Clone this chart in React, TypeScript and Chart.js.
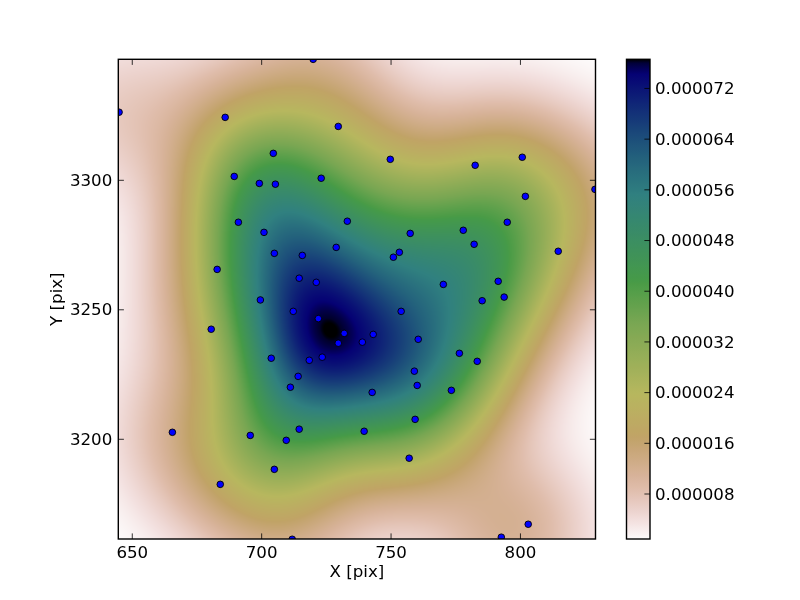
import React, { useEffect, useRef } from "react";
import { Chart, registerables } from "chart.js";

Chart.register(...registerables);

const xValues = [
  644.9, 685.9, 719.9, 729.6, 704.5, 689.4, 699.1, 705.3, 723.0, 691.0, 733.1, 700.9, 728.8, 704.9, 715.7, 682.8, 714.5,
  721.1, 699.5, 749.7, 782.5, 800.7, 828.8, 801.9, 794.9, 777.9, 782.1, 757.4, 753.2, 750.9, 814.6, 791.4, 793.7, 785.2,
  770.2, 712.2, 721.9, 731.9, 729.6, 723.4, 718.4, 680.5, 703.7, 714.1, 711.1, 665.5, 695.6, 714.5, 709.5, 704.9, 684.0,
  711.8, 753.9, 743.1, 738.9, 760.5, 776.4, 783.3, 759.0, 760.1, 773.3, 742.7, 759.3, 739.6, 757.0, 803.0, 792.6,
];
const yValues = [
  3326.3, 3324.3, 3346.7, 3320.8, 3310.4, 3301.5, 3298.8, 3298.5, 3300.8, 3283.8, 3284.2, 3279.9, 3274.1, 3271.8, 3271.0,
  3265.6, 3262.2, 3260.6, 3253.8, 3308.1, 3305.8, 3308.9, 3296.5, 3293.8, 3283.8, 3280.7, 3275.3, 3279.5, 3272.2, 3270.3,
  3272.6, 3261.0, 3254.9, 3253.5, 3259.8, 3249.4, 3246.6, 3240.9, 3237.1, 3231.7, 3230.5, 3242.5, 3231.3, 3224.3, 3220.1,
  3202.7, 3201.5, 3203.9, 3199.6, 3188.4, 3182.6, 3161.4, 3249.4, 3240.5, 3237.5, 3238.6, 3233.2, 3230.1, 3226.3, 3220.8,
  3218.9, 3218.1, 3207.7, 3203.1, 3192.7, 3167.2, 3162.2,
];
const xTicks = [650, 700, 750, 800];
const yTicks = [3200, 3250, 3300];
const xRange = [644.6, 829];
const yRange = [3161.5, 3346.72];
const densityTicks = [0.000008, 0.000016, 0.000024, 0.000032, 0.00004, 0.000048, 0.000056, 0.000064, 0.000072];
const densityRange = [0.0000009, 0.0000766];

type Stops = number[][];
const redStops: Stops = [[0, 0], [0.2824, 0.1882], [0.4588, 0.2714], [0.549, 0.4719], [0.698, 0.7176], [0.7882, 0.7553], [1, 0.9922]];
const greenStops: Stops = [
  [0, 0], [0.0275, 0], [0.1098, 0.1893], [0.1647, 0.3035], [0.2078, 0.3841], [0.2824, 0.502], [0.5216, 0.6397], [0.698, 0.7171],
  [0.7882, 0.6392], [0.8, 0.6447], [0.8157, 0.6549], [0.8667, 0.6991], [0.898, 0.743], [0.9412, 0.8275], [0.9647, 0.8816], [1, 0.9843],
];
const blueStops: Stops = [
  [0, 0], [0.0039, 0.1684], [0.0078, 0.2212], [0.0275, 0.4329], [0.0314, 0.4549], [0.2824, 0.5004], [0.4667, 0.2748],
  [0.5451, 0.3205], [0.7843, 0.3961], [0.8941, 0.6651], [1, 0.9843],
];

const FONT = "'DejaVu Sans'";
const FONT_SIZE = 16.67;

function channel(stops: Stops, t: number) {
  for (let i = 1; i < stops.length; i++) {
    if (t <= stops[i][0]) {
      const [a, va] = stops[i - 1];
      const [b, vb] = stops[i];
      return va + ((vb - va) * (t - a)) / (b - a);
    }
  }
  return stops[stops.length - 1][1];
}

// reversed earth colormap; t = 0 is lightest, t = 1 is black
function cmap(t: number): number[] {
  const u = 1 - Math.max(0, Math.min(1, t));
  return [channel(redStops, u) * 255, channel(greenStops, u) * 255, channel(blueStops, u) * 255];
}

function makeDensity() {
  const n = xValues.length;
  const mx = xValues.reduce((a, b) => a + b, 0) / n;
  const my = yValues.reduce((a, b) => a + b, 0) / n;
  let sxx = 0, syy = 0, sxy = 0;
  for (let i = 0; i < n; i++) {
    sxx += (xValues[i] - mx) ** 2;
    syy += (yValues[i] - my) ** 2;
    sxy += (xValues[i] - mx) * (yValues[i] - my);
  }
  const f2 = Math.pow(n, -1 / 3);
  const a = (sxx / (n - 1)) * f2, d = (syy / (n - 1)) * f2, b = (sxy / (n - 1)) * f2;
  const det = a * d - b * b;
  const norm = 1 / (n * 2 * Math.PI * Math.sqrt(det));
  return (x: number, y: number) => {
    let s = 0;
    for (let i = 0; i < n; i++) {
      const dx = x - xValues[i], dy = y - yValues[i];
      s += Math.exp(-0.5 * (d * dx * dx - 2 * b * dx * dy + a * dy * dy) / det);
    }
    return s * norm;
  };
}

const heatmapPlugin = {
  id: "heatmap",
  beforeDatasetsDraw(chart: any) {
    const { ctx, chartArea: area, scales } = chart;
    const left = Math.floor(area.left);
    const top = Math.floor(area.top);
    const w = Math.ceil(area.right) - left;
    const h = Math.ceil(area.bottom) - top;
    const off = document.createElement("canvas");
    off.width = w;
    off.height = h;
    const octx = off.getContext("2d")!;
    const img = octx.createImageData(w, h);
    const density = makeDensity();
    const span = densityRange[1] - densityRange[0];
    for (let j = 0; j < h; j++) {
      const yv = scales.y.getValueForPixel(top + j + 0.5);
      for (let i = 0; i < w; i++) {
        const xv = scales.x.getValueForPixel(left + i + 0.5);
        const c = cmap((density(xv, yv) - densityRange[0]) / span);
        const k = (j * w + i) * 4;
        img.data[k] = c[0];
        img.data[k + 1] = c[1];
        img.data[k + 2] = c[2];
        img.data[k + 3] = 255;
      }
    }
    octx.putImageData(img, 0, 0);
    ctx.drawImage(off, left, top);
  },
};

function strokeFrame(ctx: any, area: any) {
  ctx.save();
  ctx.strokeStyle = "#000";
  ctx.lineWidth = 1.4;
  ctx.strokeRect(area.left, area.top, area.right - area.left, area.bottom - area.top);
  ctx.restore();
}

const framePlugin = {
  id: "frame",
  afterDatasetsDraw(chart: any) {
    const { ctx, chartArea: area, scales } = chart;
    ctx.save();
    ctx.strokeStyle = "#000";
    ctx.lineWidth = 0.8;
    ctx.beginPath();
    for (const v of xTicks) {
      const p = scales.x.getPixelForValue(v);
      ctx.moveTo(p, area.top);
      ctx.lineTo(p, area.top + 5.6);
      ctx.moveTo(p, area.bottom);
      ctx.lineTo(p, area.bottom - 5.6);
    }
    for (const v of yTicks) {
      const p = scales.y.getPixelForValue(v);
      ctx.moveTo(area.left, p);
      ctx.lineTo(area.left + 5.6, p);
      ctx.moveTo(area.right, p);
      ctx.lineTo(area.right - 5.6, p);
    }
    ctx.stroke();
    ctx.restore();
    strokeFrame(ctx, area);
  },
};

const colorbarFramePlugin = {
  id: "colorbarFrame",
  afterDatasetsDraw(chart: any) {
    const { ctx, chartArea: area, scales } = chart;
    ctx.save();
    ctx.strokeStyle = "#000";
    ctx.lineWidth = 0.8;
    ctx.beginPath();
    for (const v of densityTicks) {
      const p = scales.y.getPixelForValue(v);
      ctx.moveTo(area.right, p);
      ctx.lineTo(area.right - 5.6, p);
    }
    ctx.stroke();
    ctx.restore();
    strokeFrame(ctx, area);
  },
};

function colorbarFill(context: any) {
  const { chart } = context;
  const area = chart.chartArea;
  if (!area) return "#888";
  const g = chart.ctx.createLinearGradient(0, area.bottom, 0, area.top);
  for (let i = 0; i <= 128; i++) {
    const c = cmap(i / 128);
    g.addColorStop(i / 128, `rgb(${c[0].toFixed(0)},${c[1].toFixed(0)},${c[2].toFixed(0)})`);
  }
  return g;
}

export default function App() {
  const mainRef = useRef<HTMLCanvasElement>(null);
  const barRef = useRef<HTMLCanvasElement>(null);

  useEffect(() => {
    const font = { family: FONT, size: FONT_SIZE };
    const main = new Chart(mainRef.current!, {
      type: "scatter",
      data: {
        datasets: [
          {
            data: xValues.map((x, i) => ({ x, y: yValues[i] })),
            backgroundColor: "#0000ff",
            borderColor: "#000000",
            borderWidth: 0.9,
            pointRadius: 3.3,
            clip: 0,
          },
        ],
      },
      options: {
        animation: false,
        responsive: false,
        devicePixelRatio: 1,
        layout: { padding: { left: 0, top: 59.3, right: 204.5, bottom: 0 } },
        plugins: { legend: { display: false }, tooltip: { enabled: false } },
        scales: {
          x: {
            type: "linear",
            min: xRange[0],
            max: xRange[1],
            afterBuildTicks: (s: any) => { s.ticks = xTicks.map((value) => ({ value })); },
            afterFit: (s: any) => { s.height = 61; },
            grid: { display: false, drawTicks: false },
            border: { display: false },
            ticks: { font, color: "#000", padding: 5, maxRotation: 0, autoSkip: false, callback: (v: any) => String(v) },
            title: { display: true, text: "X [pix]", font, color: "#000", padding: { top: 0, bottom: 17 } },
          },
          y: {
            type: "linear",
            min: yRange[0],
            max: yRange[1],
            afterBuildTicks: (s: any) => { s.ticks = yTicks.map((value) => ({ value })); },
            afterFit: (s: any) => { s.width = 118.3; },
            grid: { display: false, drawTicks: false },
            border: { display: false },
            ticks: { font, color: "#000", padding: 6, autoSkip: false, labelOffset: 1, callback: (v: any) => String(v) },
            title: { display: true, text: "Y [pix]", font, color: "#000", padding: { top: 48, bottom: 0 } },
          },
        },
      },
      plugins: [heatmapPlugin, framePlugin],
    } as any);

    const bar = new Chart(barRef.current!, {
      type: "bar",
      data: {
        labels: ["density"],
        datasets: [
          {
            data: [densityRange],
            backgroundColor: colorbarFill,
            barPercentage: 1,
            categoryPercentage: 1,
            borderWidth: 0,
          },
        ],
      },
      options: {
        animation: false,
        responsive: false,
        devicePixelRatio: 1,
        layout: { padding: { left: 626.5, top: 59.3, right: 0, bottom: 61 } },
        plugins: { legend: { display: false }, tooltip: { enabled: false } },
        scales: {
          x: { display: false },
          y: {
            position: "right",
            min: densityRange[0],
            max: densityRange[1],
            afterBuildTicks: (s: any) => { s.ticks = densityTicks.map((value) => ({ value })); },
            afterFit: (s: any) => { s.width = 150; },
            grid: { display: false, drawTicks: false },
            border: { display: false },
            ticks: { font, color: "#000", padding: 5, autoSkip: false, labelOffset: 1.5, callback: (v: any) => Number(v).toFixed(6) },
          },
        },
      },
      plugins: [colorbarFramePlugin],
    } as any);

    return () => {
      main.destroy();
      bar.destroy();
    };
  }, []);

  const canvasStyle: React.CSSProperties = { position: "absolute", left: 0, top: 0 };
  return (
    <div style={{ position: "fixed", left: 0, top: 0, width: 800, height: 600, background: "#fff" }}>
      <canvas ref={mainRef} width={800} height={600} style={canvasStyle} />
      <canvas ref={barRef} width={800} height={600} style={canvasStyle} />
    </div>
  );
}
